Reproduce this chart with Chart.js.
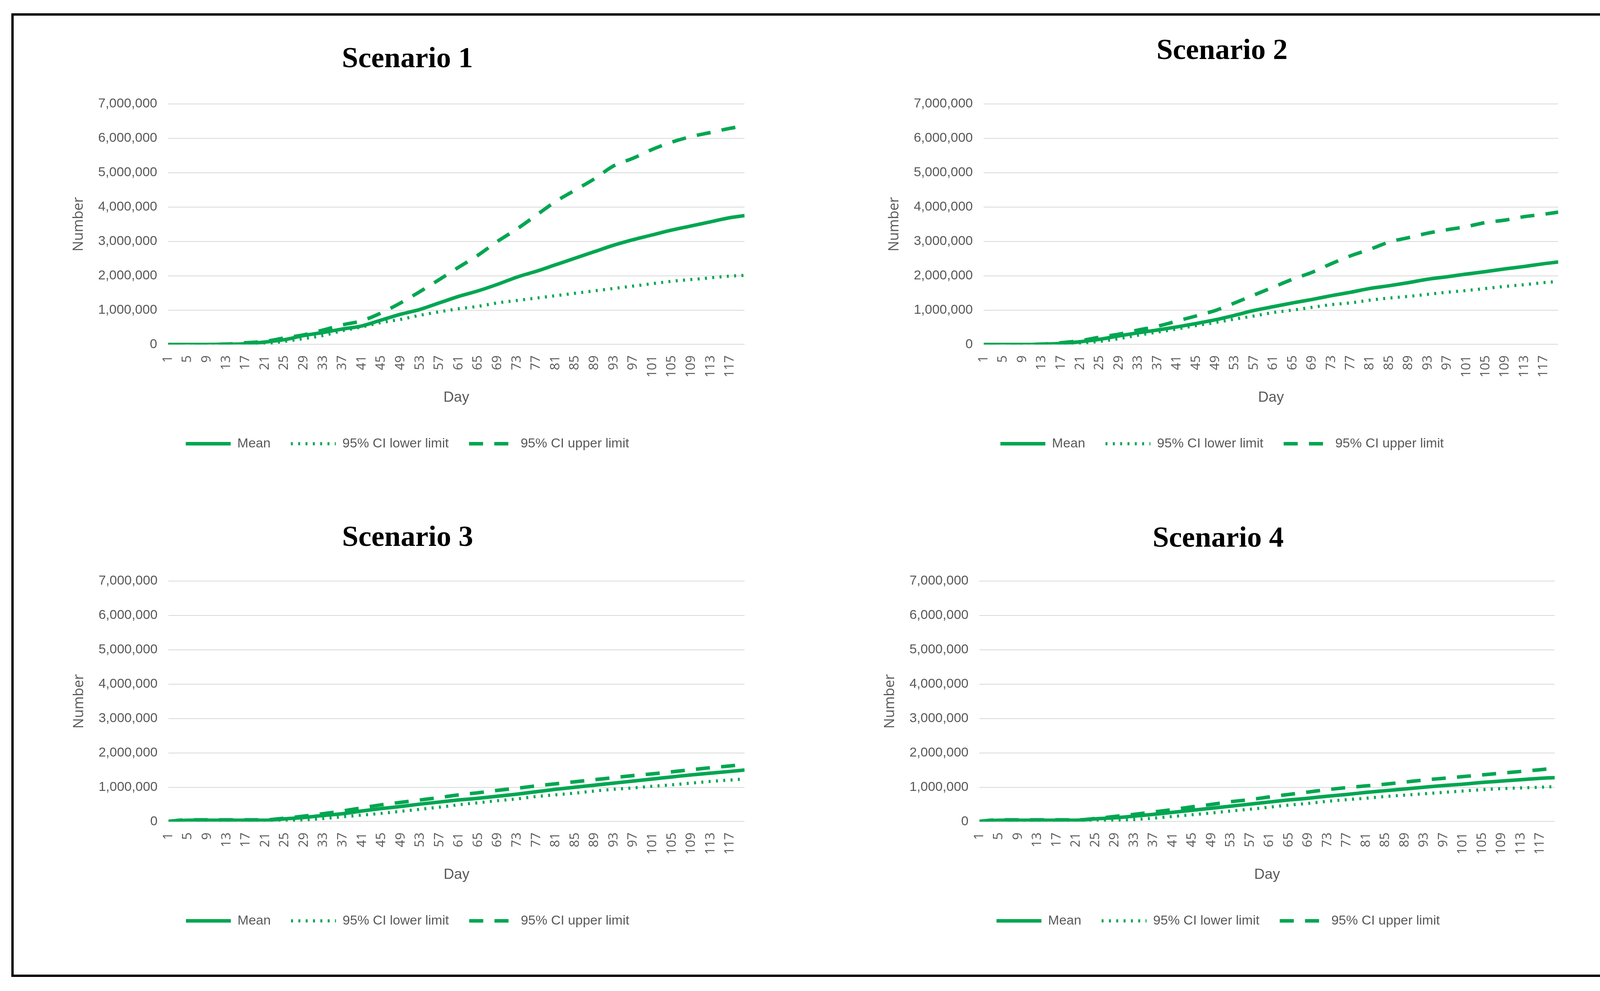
<!DOCTYPE html>
<html>
<head>
<meta charset="utf-8">
<script src="https://cdn.jsdelivr.net/npm/chart.js@4.4.1/dist/chart.umd.min.js"></script>
<style>
  html, body { margin: 0; padding: 0; background: #fff; }
  body { width: 4137px; height: 2536px; position: relative; overflow: hidden; }
  #frame { position: absolute; left: 29px; top: 34px; width: 4063px; height: 2454px; border: 6px solid #000; }
  canvas { position: absolute; }
</style>
</head>
<body>
<div id="frame"></div>
<canvas id="chart1" width="1910" height="1200" style="left:36px;top:43px;width:1910px;height:1200px"></canvas>
<canvas id="chart2" width="1905" height="1200" style="left:2124px;top:43px;width:1905px;height:1200px"></canvas>
<canvas id="chart3" width="1909" height="1199" style="left:37px;top:1265px;width:1909px;height:1199px"></canvas>
<canvas id="chart4" width="1907" height="1199" style="left:2113px;top:1265px;width:1907px;height:1199px"></canvas>
<script>
// Days sampled from the curves
const days = [1, 5, 9, 13, 17, 21, 25, 29, 33, 37, 41, 45, 49, 53, 57, 61, 65, 69, 73, 77, 81, 85, 89, 93, 97, 101, 105, 109, 113, 117, 120];

// Tick labels on the day axis
const dayTicks = [1, 5, 9, 13, 17, 21, 25, 29, 33, 37, 41, 45, 49, 53, 57, 61, 65, 69, 73, 77, 81, 85, 89, 93, 97, 101, 105, 109, 113, 117];

const seriesLabels = ['Mean', '95% CI lower limit', '95% CI upper limit'];

// Scenario 1
const scenario1Mean = [0, 0, 0, 5000, 20000, 70000, 140000, 260000, 350000, 450000, 540000, 710000, 880000, 1020000, 1210000, 1400000, 1560000, 1750000, 1960000, 2130000, 2320000, 2510000, 2700000, 2890000, 3050000, 3190000, 3330000, 3450000, 3570000, 3690000, 3750000];
const scenario1Lower = [0, 0, 0, 0, 5000, 20000, 90000, 170000, 260000, 400000, 510000, 640000, 730000, 850000, 950000, 1040000, 1110000, 1210000, 1280000, 1350000, 1420000, 1490000, 1560000, 1630000, 1700000, 1770000, 1840000, 1890000, 1940000, 1990000, 2010000];
const scenario1Upper = [0, 0, 0, 10000, 50000, 90000, 190000, 280000, 420000, 570000, 690000, 920000, 1210000, 1540000, 1890000, 2250000, 2600000, 3000000, 3360000, 3760000, 4160000, 4490000, 4820000, 5200000, 5420000, 5680000, 5890000, 6050000, 6170000, 6290000, 6360000];

// Scenario 2
const scenario2Mean = [0, 0, 0, 5000, 30000, 80000, 150000, 250000, 340000, 420000, 510000, 610000, 720000, 850000, 990000, 1100000, 1210000, 1310000, 1420000, 1520000, 1630000, 1710000, 1800000, 1900000, 1970000, 2050000, 2120000, 2200000, 2270000, 2350000, 2400000];
const scenario2Lower = [0, 0, 0, 0, 10000, 40000, 90000, 170000, 270000, 360000, 450000, 550000, 640000, 740000, 830000, 930000, 1000000, 1080000, 1160000, 1210000, 1290000, 1350000, 1400000, 1460000, 1520000, 1570000, 1630000, 1690000, 1740000, 1800000, 1830000];
const scenario2Upper = [0, 0, 0, 10000, 50000, 110000, 210000, 300000, 420000, 530000, 680000, 830000, 990000, 1210000, 1440000, 1670000, 1900000, 2100000, 2350000, 2580000, 2770000, 2980000, 3110000, 3240000, 3340000, 3430000, 3550000, 3620000, 3720000, 3790000, 3850000];

// Scenario 3
const scenario3Mean = [10000, 40000, 40000, 40000, 40000, 40000, 80000, 120000, 180000, 230000, 310000, 380000, 440000, 510000, 570000, 630000, 680000, 740000, 800000, 870000, 940000, 1000000, 1060000, 1120000, 1180000, 1240000, 1300000, 1360000, 1410000, 1460000, 1500000];
const scenario3Lower = [10000, 20000, 20000, 20000, 20000, 20000, 30000, 50000, 90000, 140000, 190000, 240000, 300000, 360000, 420000, 490000, 550000, 610000, 660000, 730000, 780000, 830000, 890000, 940000, 980000, 1030000, 1070000, 1120000, 1170000, 1210000, 1240000];
const scenario3Upper = [10000, 50000, 50000, 50000, 50000, 50000, 100000, 160000, 230000, 310000, 400000, 490000, 560000, 630000, 700000, 780000, 840000, 910000, 970000, 1040000, 1100000, 1160000, 1220000, 1280000, 1340000, 1390000, 1450000, 1510000, 1570000, 1620000, 1670000];

// Scenario 4
const scenario4Mean = [10000, 40000, 40000, 40000, 40000, 40000, 80000, 110000, 160000, 210000, 270000, 330000, 390000, 450000, 510000, 570000, 630000, 680000, 740000, 790000, 850000, 900000, 950000, 1000000, 1050000, 1090000, 1140000, 1180000, 1220000, 1260000, 1280000];
const scenario4Lower = [10000, 20000, 20000, 20000, 20000, 20000, 20000, 40000, 60000, 100000, 150000, 200000, 250000, 310000, 360000, 420000, 480000, 530000, 590000, 640000, 680000, 730000, 770000, 810000, 850000, 890000, 930000, 960000, 980000, 1000000, 1020000];
const scenario4Upper = [10000, 50000, 50000, 50000, 50000, 50000, 90000, 150000, 210000, 280000, 350000, 430000, 500000, 580000, 640000, 720000, 790000, 860000, 930000, 990000, 1040000, 1090000, 1150000, 1210000, 1260000, 1310000, 1360000, 1410000, 1460000, 1510000, 1560000];

const GREEN = '#00a651';
const GREY_TEXT = '#595959';

Chart.defaults.font.family = "'Liberation Sans', Arial, sans-serif";

function toPoints(values) {
  return days.map((d, i) => ({ x: d, y: values[i] }));
}

function makeChart(id, title, mean, lower, upper, titlePad) {
  const ctx = document.getElementById(id).getContext('2d');
  new Chart(ctx, {
    type: 'line',
    data: {
      datasets: [
        { label: seriesLabels[0], data: toPoints(mean), borderColor: GREEN, borderWidth: 9, borderDash: [] },
        { label: seriesLabels[1], data: toPoints(lower), borderColor: GREEN, borderWidth: 8, borderDash: [5, 13.75] },
        { label: seriesLabels[2], data: toPoints(upper), borderColor: GREEN, borderWidth: 9, borderDash: [36, 28.67] }
      ]
    },
    options: {
      responsive: false,
      animation: false,
      elements: {
        point: { radius: 0 },
        line: { cubicInterpolationMode: 'monotone', fill: false }
      },
      layout: { padding: { left: 144, right: 40, top: 0, bottom: 80.5 } },
      plugins: {
        title: {
          display: true,
          text: title,
          color: '#000',
          font: { family: "'Liberation Serif', 'Times New Roman', serif", size: 75, weight: 'bold' },
          padding: titlePad
        },
        legend: {
          position: 'bottom',
          labels: {
            boxWidth: 115,
            boxHeight: 0,
            padding: 52,
            color: GREY_TEXT,
            font: { size: 34 },
            generateLabels: chart => chart.data.datasets.map((ds, i) => ({
              text: ds.label,
              fillStyle: ds.borderColor,
              strokeStyle: ds.borderColor,
              lineWidth: ds.borderWidth,
              lineDash: ds.borderDash,
              lineCap: 'butt',
              fontColor: GREY_TEXT,
              hidden: false,
              datasetIndex: i
            }))
          }
        },
        tooltip: { enabled: false }
      },
      scales: {
        x: {
          type: 'linear',
          min: 1,
          max: 120,
          afterBuildTicks: axis => { axis.ticks = dayTicks.map(v => ({ value: v })); },
          grid: { display: false, drawTicks: false },
          border: { display: false },
          ticks: {
            autoSkip: false,
            minRotation: 90,
            maxRotation: 90,
            padding: 28,
            color: GREY_TEXT,
            font: { family: "'Open Sans', sans-serif", size: 33 },
            callback: v => String(v)
          },
          title: {
            display: true,
            text: 'Day',
            color: GREY_TEXT,
            font: { size: 37 },
            padding: { top: 1, bottom: 27 }
          }
        },
        y: {
          min: 0,
          max: 7000000,
          grid: { color: '#d9d9d9', lineWidth: 2, drawTicks: false },
          border: { display: false },
          ticks: {
            stepSize: 1000000,
            padding: 28,
            color: GREY_TEXT,
            font: { size: 34 },
            callback: v => v.toLocaleString('en-US')
          },
          title: {
            display: true,
            text: 'Number',
            color: GREY_TEXT,
            font: { family: "'Open Sans', sans-serif", size: 36 },
            padding: { top: 0, bottom: 0 }
          }
        }
      }
    }
  });
}

document.addEventListener('DOMContentLoaded', () => {
  makeChart('chart1', 'Scenario 1', scenario1Mean, scenario1Lower, scenario1Upper, { top: 65, bottom: 68 });
  makeChart('chart2', 'Scenario 2', scenario2Mean, scenario2Lower, scenario2Upper, { top: 44, bottom: 89 });
  makeChart('chart3', 'Scenario 3', scenario3Mean, scenario3Lower, scenario3Upper, { top: 68, bottom: 64 });
  makeChart('chart4', 'Scenario 4', scenario4Mean, scenario4Lower, scenario4Upper, { top: 70, bottom: 62 });
});
</script>
</body>
</html>
